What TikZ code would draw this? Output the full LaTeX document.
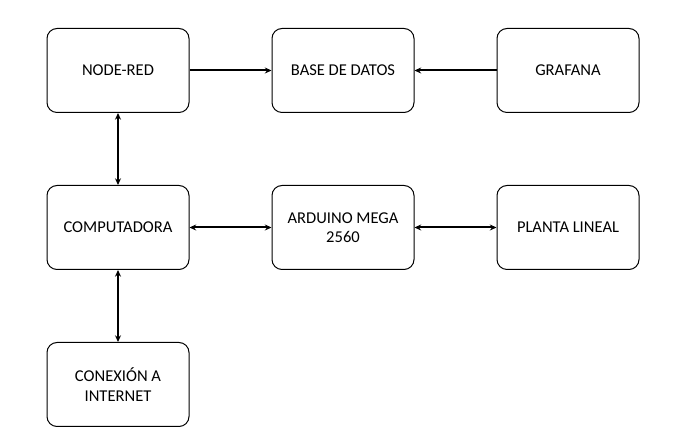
\documentclass[tikz,border=0pt]{standalone}
\usepackage{fontspec}
\setmainfont{Carlito}
\usetikzlibrary{arrows.meta}
\tikzset{every picture/.style={line width=0.75pt}}
\tikzset{
  bloque/.style={draw, rounded corners=7.5pt, minimum width=106.5pt, minimum height=63pt,
    align=center, inner sep=0.75pt, font=\fontsize{12.4}{14.6}\selectfont},
  flecha/.style={-{Stealth[length=5pt,width=4.5pt]}, line width=1.5pt},
  dflecha/.style={{Stealth[length=5pt,width=4.5pt]}-{Stealth[length=5pt,width=4.5pt]}, line width=1.5pt}
}

\begin{document}
\begin{tikzpicture}[x=0.75pt,y=0.75pt,yscale=-1,xscale=1]
\useasboundingbox (0,0) rectangle (697,448);

% Fila superior
\node [bloque] (nodered) at (118,70.5) {NODE-RED};
\node [bloque] (basedatos) at (343,70.5) {BASE DE DATOS};
\node [bloque] (grafana) at (568,70.5) {GRAFANA};
% Fila central
\node [bloque] (compu) at (118,227.5) {COMPUTADORA};
\node [bloque] (arduino) at (343,227.5) {ARDUINO MEGA\\2560};
\node [bloque] (planta) at (568,227.5) {PLANTA LINEAL};
% Fila inferior
\node [bloque] (internet) at (118,384.5) {CONEXIÓN A\\INTERNET};

% Conexiones
\draw [flecha] (nodered) -- (basedatos);
\draw [flecha] (grafana) -- (basedatos);
\draw [dflecha] (nodered) -- (compu);
\draw [dflecha] (compu) -- (arduino);
\draw [dflecha] (arduino) -- (planta);
\draw [dflecha] (compu) -- (internet);

\end{tikzpicture}
\end{document}
